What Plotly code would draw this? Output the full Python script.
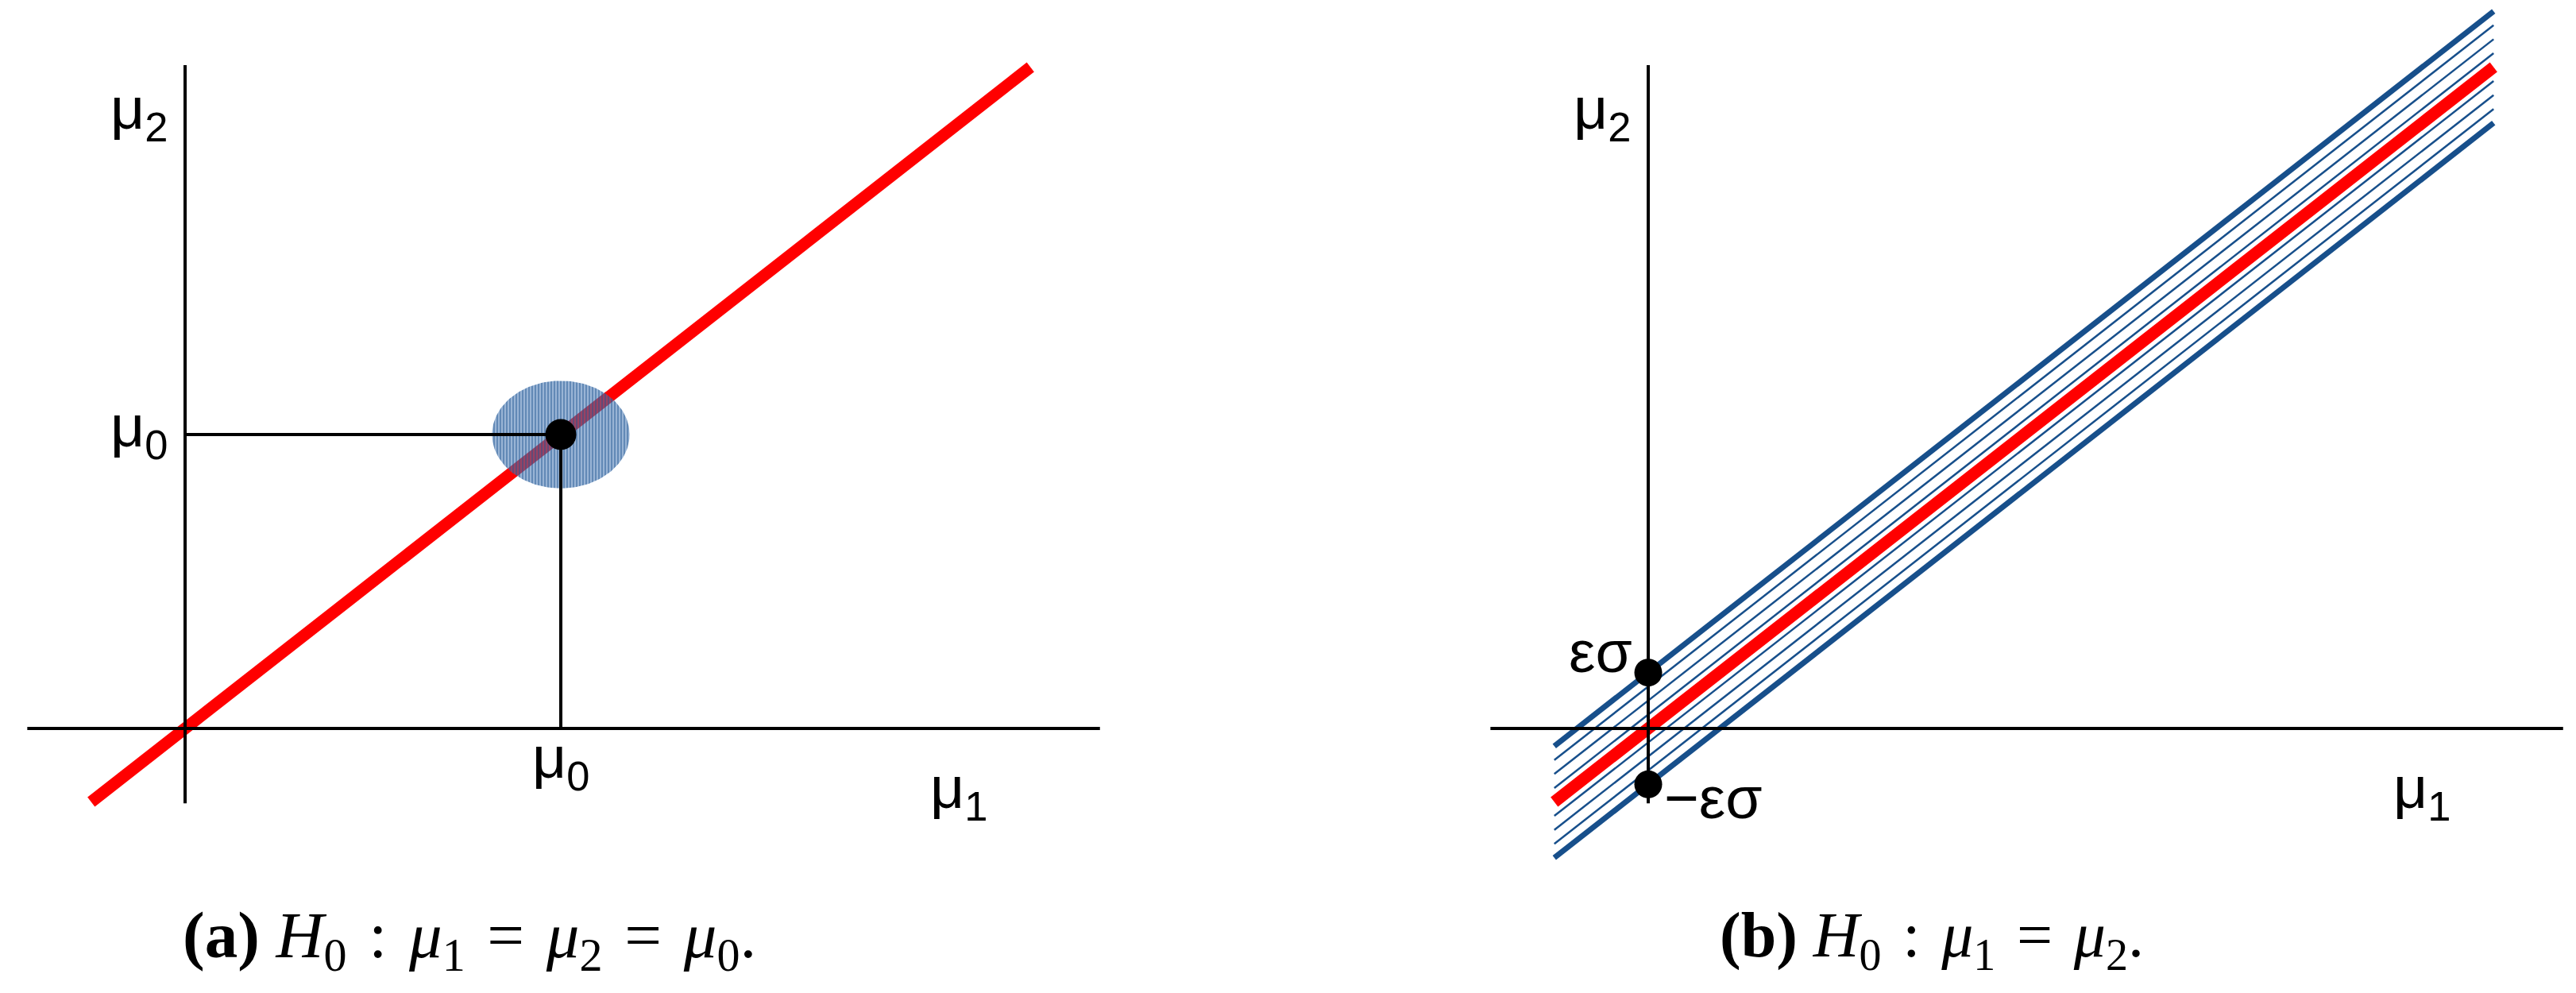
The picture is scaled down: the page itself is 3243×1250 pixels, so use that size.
""" Two sketches of H0 in the (mu1, mu2) plane: point null vs. equality band """

import numpy as np
import plotly.graph_objects as go
from plotly.subplots import make_subplots

# Values, in axis units where mu0 = 1
MU0 = 1.0
EPS_SIGMA = 0.19
CONF_RADIUS = 0.183
AXIS_X = [-0.42, 2.435]      # extent of the drawn mu1 axis
AXIS_Y = [-0.255, 2.257]     # extent of the drawn mu2 axis
DIAG_X = [-0.25, 2.25]       # extent of the mu1 = mu2 line
HATCH_FRACTIONS = [-0.75, -0.5, -0.25, 0.25, 0.5, 0.75]   # thin band lines, in eps*sigma

SP = "\u2004"   # a slightly wider space, like the math spacing of the caption
LABEL_MU1 = "μ<sub>1</sub>"
LABEL_MU2 = "μ<sub>2</sub>"
LABEL_MU0 = "μ<sub>0</sub>"
LABEL_EPS = "εσ"
LABEL_NEG_EPS = "−εσ"
CAPTION_A = ("<b>(a)</b> <i>H</i><sub>0</sub>" + SP + ":" + SP + "<i>μ</i><sub>1</sub>"
             + SP + "=" + SP + "<i>μ</i><sub>2</sub>" + SP + "=" + SP + "<i>μ</i><sub>0</sub>.")
CAPTION_B = ("<b>(b)</b> <i>H</i><sub>0</sub>" + SP + ":" + SP + "<i>μ</i><sub>1</sub>"
             + SP + "=" + SP + "<i>μ</i><sub>2</sub>.")

RED = "#ff0000"
BLUE = "#174f8b"
BLACK = "#000000"
SANS = "Liberation Sans, Arial, sans-serif"
SERIF = "Liberation Serif, Times New Roman, serif"

# page body keeps its default 8px margin, so the figure is 16px smaller
WIDTH, HEIGHT = 3227, 1234


def line(x, y, color, width, col):
    return go.Scatter(x=x, y=y, mode="lines", line=dict(color=color, width=width),
                      hoverinfo="skip", showlegend=False), col


def create_figure():
    fig = make_subplots(rows=1, cols=2, horizontal_spacing=0)
    diag_y = np.array(DIAG_X)

    # ---- panel (a): point null ----
    traces = []
    traces.append(line(DIAG_X, diag_y, RED, 15, 1))

    # region around (mu0, mu0), hatched like the original
    theta = np.linspace(0, 2 * np.pi, 160)
    traces.append((go.Scatter(
        x=MU0 + CONF_RADIUS * np.cos(theta), y=MU0 + CONF_RADIUS * np.sin(theta),
        mode="lines", line=dict(width=0), fill="toself",
        fillcolor="rgba(70,115,175,0.55)",
        fillpattern=dict(shape="|", fgcolor="#1d5592", bgcolor="rgba(80,125,185,0.5)",
                         size=4, solidity=0.6),
        hoverinfo="skip", showlegend=False), 1))

    traces.append(line(AXIS_X, [0, 0], BLACK, 4, 1))
    traces.append(line([0, 0], AXIS_Y, BLACK, 4, 1))
    traces.append(line([0, MU0], [MU0, MU0], BLACK, 4, 1))
    traces.append(line([MU0, MU0], [0, MU0], BLACK, 4, 1))
    traces.append((go.Scatter(x=[MU0], y=[MU0], mode="markers",
                              marker=dict(color=BLACK, size=39),
                              hoverinfo="skip", showlegend=False), 1))

    # ---- panel (b): band of half-width eps*sigma around mu1 = mu2 ----
    for f in HATCH_FRACTIONS:
        traces.append(line(DIAG_X, diag_y + f * EPS_SIGMA, BLUE, 2.5, 2))
    traces.append(line(DIAG_X, diag_y + EPS_SIGMA, BLUE, 7, 2))
    traces.append(line(DIAG_X, diag_y - EPS_SIGMA, BLUE, 7, 2))
    traces.append(line(DIAG_X, diag_y, RED, 15, 2))
    traces.append(line(AXIS_X, [0, 0], BLACK, 4, 2))
    traces.append(line([0, 0], AXIS_Y, BLACK, 4, 2))
    traces.append((go.Scatter(x=[0, 0], y=[EPS_SIGMA, -EPS_SIGMA], mode="markers",
                              marker=dict(color=BLACK, size=35),
                              hoverinfo="skip", showlegend=False), 2))

    for tr, col in traces:
        fig.add_trace(tr, row=1, col=col)

    # axis ranges chosen so both panels share the same pixel scale
    fig.update_xaxes(visible=False, range=[-0.4757, 2.9355], row=1, col=1)
    fig.update_xaxes(visible=False, range=[-0.9588, 2.4524], row=1, col=2)
    fig.update_yaxes(visible=False, range=[-0.8784, 2.4568])

    lab = dict(size=75, color=BLACK, family=SANS)
    ann = []
    for xr, yr in (("x", "y"), ("x2", "y2")):
        ann.append(dict(x=0, y=2.068, xref=xr, yref=yr, text=LABEL_MU2,
                        xanchor="right", yanchor="middle", xshift=-20, yshift=10))
        ann.append(dict(x=2.06, y=0, xref=xr, yref=yr, text=LABEL_MU1,
                        xanchor="center", yanchor="top", yshift=-30))
    ann.append(dict(x=0, y=MU0, xref="x", yref="y", text=LABEL_MU0,
                    xanchor="right", yanchor="middle", xshift=-20, yshift=6))
    ann.append(dict(x=MU0, y=0, xref="x", yref="y", text=LABEL_MU0,
                    xanchor="center", yanchor="top", yshift=8))
    ann.append(dict(x=0, y=EPS_SIGMA, xref="x2", yref="y2", text=LABEL_EPS,
                    xanchor="right", yanchor="middle", xshift=-18, yshift=27))
    ann.append(dict(x=0, y=-EPS_SIGMA, xref="x2", yref="y2", text=LABEL_NEG_EPS,
                    xanchor="left", yanchor="middle", xshift=18, yshift=-17))
    for a in ann:
        a.update(showarrow=False, font=lab)

    ann.append(dict(x=0.1807, y=0.048, xref="paper", yref="paper", text=CAPTION_A,
                    showarrow=False, xanchor="center", yanchor="middle",
                    font=dict(size=83, color=BLACK, family=SERIF)))
    ann.append(dict(x=0.7512, y=0.048, xref="paper", yref="paper", text=CAPTION_B,
                    showarrow=False, xanchor="center", yanchor="middle",
                    font=dict(size=80, color=BLACK, family=SERIF)))

    fig.update_layout(
        width=WIDTH, height=HEIGHT,
        margin=dict(l=0, r=0, t=0, b=0),
        plot_bgcolor="white", paper_bgcolor="white",
        showlegend=False,
        annotations=ann,
    )
    return fig


def main():
    fig = create_figure()
    fig.write_html("out.html")


if __name__ == "__main__":
    main()
